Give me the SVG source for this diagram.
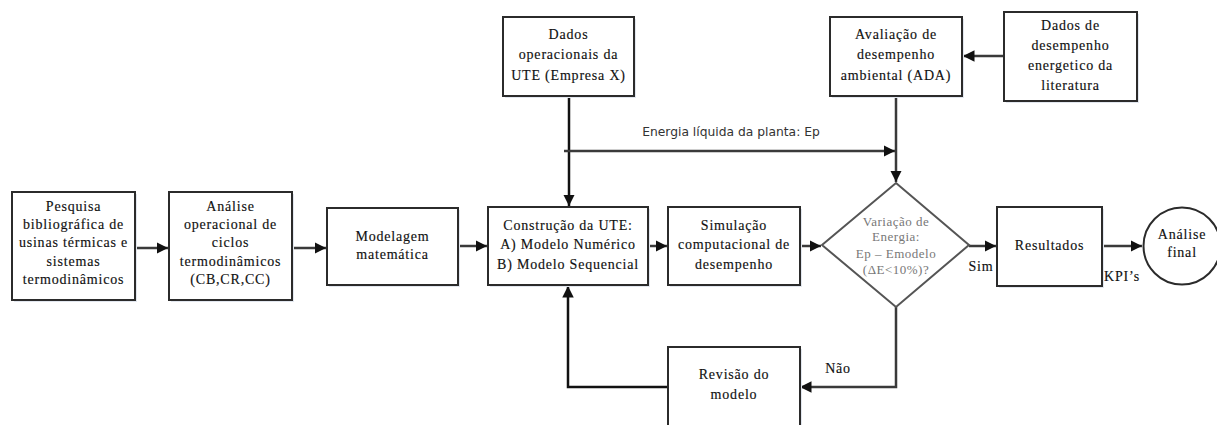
<svg xmlns="http://www.w3.org/2000/svg" width="1217" height="425" viewBox="0 0 1217 425">
<defs>
<style>
.box{fill:#fff;stroke:#2b2b2b;stroke-width:2}
.shadow{fill:#e2e7ef}
.t{font-family:"Liberation Serif","Times New Roman",serif;font-size:14px;letter-spacing:0.8px;fill:#111;stroke:#111;stroke-width:0.15;text-anchor:middle}
.dt{font-family:"Liberation Serif","Times New Roman",serif;font-size:13px;letter-spacing:0.5px;fill:#777;text-anchor:middle}
.lbl{font-family:"DejaVu Sans",sans-serif;font-size:12.3px;fill:#333}
.c{fill:none;stroke:#3a3a3a;stroke-width:2.5}
</style>
<marker id="ah" viewBox="0 0 10 10" refX="10" refY="5" markerWidth="4.6" markerHeight="4.6" orient="auto" markerUnits="strokeWidth">
<path d="M0,0 L10,5 L0,10 z" fill="#111"/>
</marker>
</defs>
<rect width="1217" height="425" fill="#fff"/>

<g id="connectors">
<path class="c" d="M135,248 H168" marker-end="url(#ah)"/>
<path class="c" d="M292,248 H326" marker-end="url(#ah)"/>
<path class="c" d="M458,246 H487" marker-end="url(#ah)"/>
<path class="c" d="M648,246 H667" marker-end="url(#ah)"/>
<path class="c" d="M800,246 H821" marker-end="url(#ah)"/>
<path class="c" d="M969,246 H996" marker-end="url(#ah)"/>
<path class="c" d="M1102,246 H1142" marker-end="url(#ah)"/>
<path class="c" d="M569,96 V206" marker-end="url(#ah)" style="stroke:#111"/>
<path class="c" d="M564,151 H895" marker-end="url(#ah)"/>
<path class="c" d="M1004,56 H963" marker-end="url(#ah)"/>
<path class="c" d="M896,96 V182" marker-end="url(#ah)"/>
<path class="c" d="M896,307 V387 H800" marker-end="url(#ah)"/>
<path class="c" d="M668,387 H568 V286" marker-end="url(#ah)" style="stroke:#111"/>
<text class="lbl" x="731" y="136" text-anchor="middle">Energia líquida da planta: Ep</text>
<text class="t" x="981" y="271">Sim</text>
<text class="t" x="1122" y="281">KPI’s</text>
<text class="t" x="838" y="373">Não</text>
</g>

<g id="n1">
<rect class="shadow" x="14" y="194" width="123" height="108"/>
<rect class="box" x="12" y="192" width="123" height="108"/>
<text class="t" x="73.5" y="211">Pesquisa</text>
<text class="t" x="73.5" y="229">bibliográfica de</text>
<text class="t" x="73.5" y="247">usinas térmicas e</text>
<text class="t" x="73.5" y="266">sistemas</text>
<text class="t" x="73.5" y="284">termodinâmicos</text>
</g>

<g id="n2">
<rect class="shadow" x="171" y="194" width="123" height="108"/>
<rect class="box" x="169" y="192" width="123" height="108"/>
<text class="t" x="230.5" y="211">Análise</text>
<text class="t" x="230.5" y="229">operacional de</text>
<text class="t" x="230.5" y="247">ciclos</text>
<text class="t" x="230.5" y="266">termodinâmicos</text>
<text class="t" x="230.5" y="284">(CB,CR,CC)</text>
</g>

<g id="n3">
<rect class="shadow" x="329" y="210" width="131" height="77"/>
<rect class="box" x="327" y="208" width="131" height="77"/>
<text class="t" x="392.5" y="241">Modelagem</text>
<text class="t" x="392.5" y="259">matemática</text>
</g>

<g id="n4">
<rect class="shadow" x="490" y="209" width="160" height="78"/>
<rect class="box" x="488" y="207" width="160" height="78"/>
<text class="t" x="568" y="230">Construção da UTE:</text>
<text class="t" x="568" y="249">A) Modelo Numérico</text>
<text class="t" x="568" y="269">B) Modelo Sequencial</text>
</g>

<g id="n5">
<rect class="shadow" x="670" y="209" width="132" height="78"/>
<rect class="box" x="668" y="207" width="132" height="78"/>
<text class="t" x="734" y="230">Simulação</text>
<text class="t" x="734" y="249">computacional de</text>
<text class="t" x="734" y="269">desempenho</text>
</g>

<g id="n6">
<rect class="shadow" x="505" y="19" width="131" height="79"/>
<rect class="box" x="503" y="17" width="131" height="79"/>
<text class="t" x="568.5" y="39">Dados</text>
<text class="t" x="568.5" y="59">operacionais da</text>
<text class="t" x="568.5" y="80">UTE (Empresa X)</text>
</g>

<g id="n7">
<rect class="shadow" x="832" y="19" width="132" height="79"/>
<rect class="box" x="830" y="17" width="132" height="79"/>
<text class="t" x="896" y="39">Avaliação de</text>
<text class="t" x="896" y="59">desempenho</text>
<text class="t" x="896" y="80">ambiental (ADA)</text>
</g>

<g id="n8">
<rect class="shadow" x="1006" y="14" width="133" height="89"/>
<rect class="box" x="1004" y="12" width="133" height="89"/>
<text class="t" x="1070.5" y="30">Dados de</text>
<text class="t" x="1070.5" y="50">desempenho</text>
<text class="t" x="1070.5" y="70">energetico da</text>
<text class="t" x="1070.5" y="90">literatura</text>
</g>

<g id="n9">
<path d="M896,183 L969,245 L896,307 L822,245 Z" fill="#fff" stroke="#555" stroke-width="2"/>
<text class="dt" x="896" y="226">Variação de</text>
<text class="dt" x="896" y="241">Energia:</text>
<text class="dt" x="896" y="258">Ep – Emodelo</text>
<text class="dt" x="896" y="274">(ΔE&lt;10%)?</text>
</g>

<g id="n10">
<rect class="shadow" x="999" y="209" width="105" height="79"/>
<rect class="box" x="997" y="207" width="105" height="79"/>
<text class="t" x="1049.5" y="250">Resultados</text>
</g>

<g id="n11">
<circle cx="1182" cy="246" r="38.5" fill="#fff" stroke="#2b2b2b" stroke-width="2"/>
<text class="t" x="1182" y="239">Análise</text>
<text class="t" x="1182" y="257">final</text>
</g>

<g id="n12">
<rect class="shadow" x="670" y="349" width="132" height="80"/>
<rect class="box" x="668" y="347" width="132" height="80"/>
<text class="t" x="734" y="379">Revisão do</text>
<text class="t" x="734" y="399">modelo</text>
</g>
</svg>
